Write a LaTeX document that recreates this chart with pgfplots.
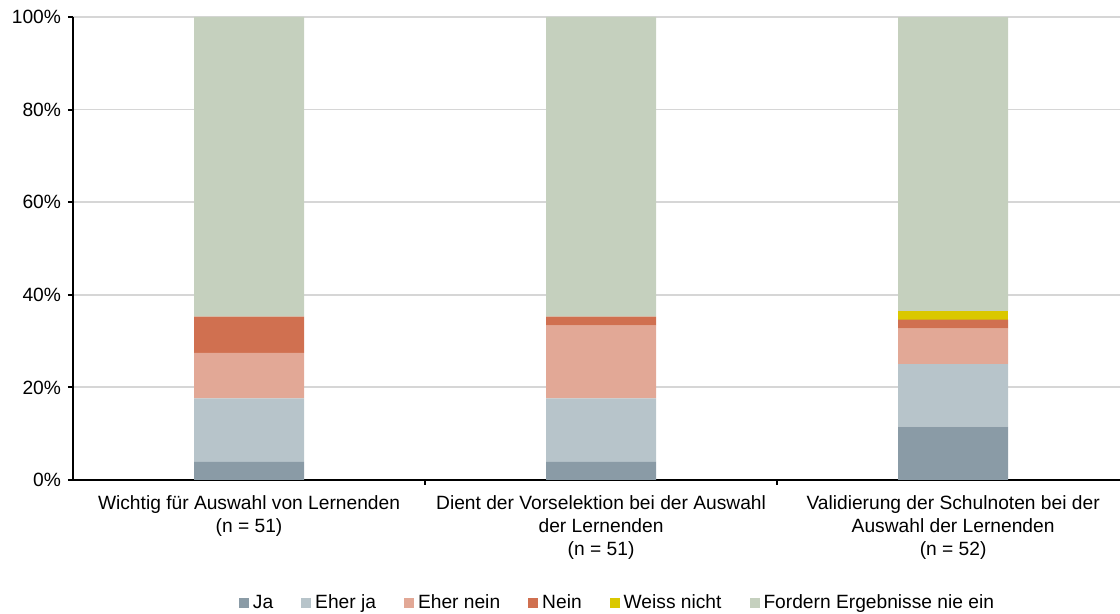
\documentclass[border=0pt]{standalone}
\usepackage{pgfplots}
\pgfplotsset{compat=1.18}
\usepackage{fontspec}
\setmainfont{Liberation Sans}
\definecolor{cJa}{HTML}{8A9BA6}
\definecolor{cEherja}{HTML}{B7C4CA}
\definecolor{cEhernein}{HTML}{E2A896}
\definecolor{cNein}{HTML}{D07050}
\definecolor{cWeiss}{HTML}{DAC800}
\definecolor{cFordern}{HTML}{C5D0BE}
\begin{document}
\begin{tikzpicture}
\useasboundingbox (0,0) rectangle (560pt,307pt);
\begin{axis}[
  at={(36.5pt,67pt)}, anchor=south west,
  scale only axis, width=523.5pt, height=231.5pt,
  ybar stacked, bar width=55pt,
  xmin=-0.5, xmax=2.474, ymin=0, ymax=100,
  axis x line*=bottom, axis y line*=left,
  axis line style={line width=1pt, black},
  ytick={0,20,...,100},
  yticklabel={\pgfmathprintnumber{\tick}\%},
  /pgf/number format/assume math mode=true,
  ymajorgrids, grid style={line width=0.9pt, color=black!16},
  tick align=outside, major tick length=2.5pt,
  tick style={line width=1pt, black},
  every tick label/.append style={font=\fontsize{9.6}{11.5}\selectfont},
  xticklabel style={align=center, anchor=north, yshift=-4.5pt},
  xtick={0.5,1.5}, xticklabels={},
  extra x ticks={0,1,2},
  extra x tick labels={{Wichtig für Auswahl von Lernenden\\(n = 51)},{Dient der Vorselektion bei der Auswahl\\der Lernenden\\(n = 51)},{Validierung der Schulnoten bei der\\Auswahl der Lernenden\\(n = 52)}},
  extra x tick style={major tick length=0pt, grid=none},
  legend style={at={(axis description cs:0.521,-0.2655)}, anchor=center, draw=none,
    font=\fontsize{9.6}{11.5}\selectfont,
    /tikz/every even column/.append style={column sep=12pt},
    nodes={inner xsep=2pt}},
  legend columns=-1,
  legend image code/.code={\fill[#1] (0pt,-2.5pt) rectangle (5pt,2.5pt);},
]
\addplot[fill=cJa, draw=none] coordinates {(0,3.92) (1,3.92) (2,11.54)};
\addplot[fill=cEherja, draw=none] coordinates {(0,13.73) (1,13.73) (2,13.46)};
\addplot[fill=cEhernein, draw=none] coordinates {(0,9.80) (1,15.69) (2,7.69)};
\addplot[fill=cNein, draw=none] coordinates {(0,7.84) (1,1.96) (2,1.92)};
\addplot[fill=cWeiss, draw=none] coordinates {(0,0) (1,0) (2,1.92)};
\addplot[fill=cFordern, draw=none] coordinates {(0,64.71) (1,64.71) (2,63.46)};
\legend{Ja, Eher ja, Eher nein, Nein, Weiss nicht, Fordern Ergebnisse nie ein}
\end{axis}
\end{tikzpicture}
\end{document}
